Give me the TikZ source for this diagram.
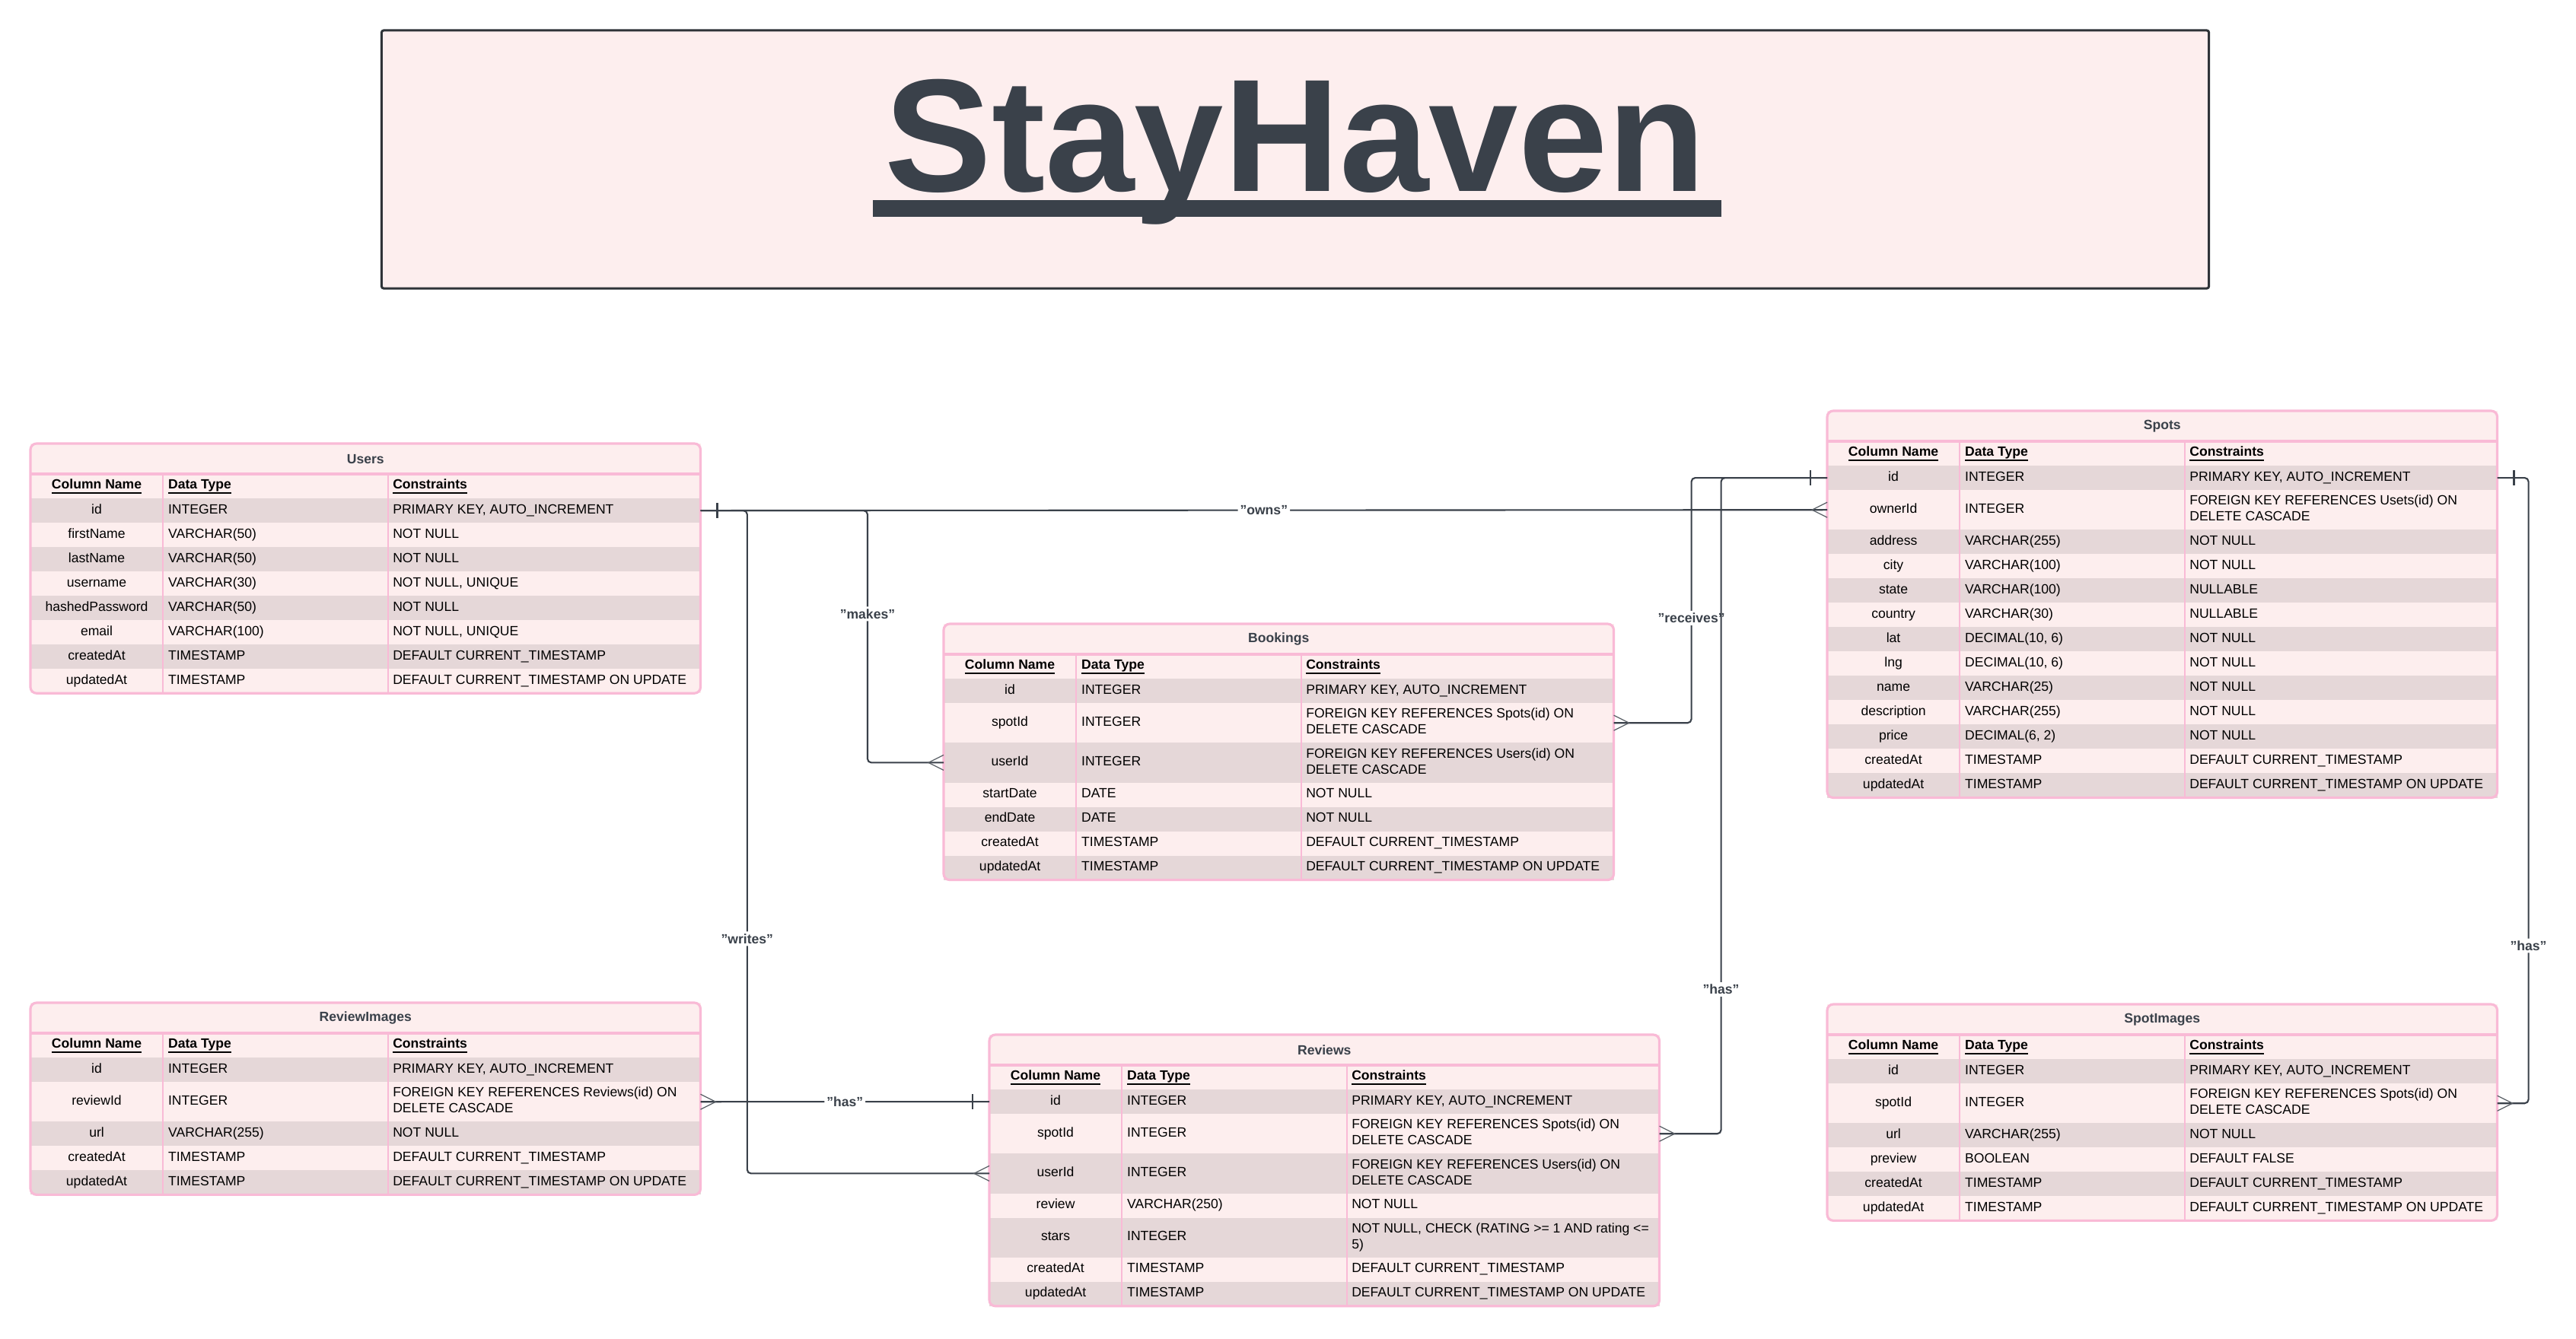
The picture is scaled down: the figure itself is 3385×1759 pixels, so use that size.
\documentclass[tikz,border=0pt]{standalone}
\usepackage{fontspec}
\setmainfont{Liberation Sans}
\usepackage{xcolor}
\usepackage{tikz}
\usetikzlibrary{positioning}

\definecolor{ink}{HTML}{3A414A}
\definecolor{rowlight}{HTML}{FDEEEE}
\definecolor{rowdark}{HTML}{E5D7D8}
\definecolor{tabpink}{HTML}{F9BAD6}
\definecolor{framegray}{HTML}{2F3338}

\newcommand{\cellfont}{\fontsize{5pt}{6pt}\selectfont}
\newcommand{\hdul}[1]{\underline{\smash{#1}}}
\newcommand{\cells}[3]{\parbox[c]{1.74cm}{\centering\strut\ignorespaces#1}\parbox[c]{2.96cm}{\leftskip=0.07cm\relax\strut\ignorespaces#2}\parbox[c]{4.1cm}{\raggedright\leftskip=0.06cm\relax\strut\ignorespaces#3\strut}}

\tikzstyle{tabtitle} = [rectangle, anchor=north west, minimum width=8.8cm, minimum height=0.4cm, inner sep=0pt, outer sep=0pt, fill=rowlight, text=ink, font=\cellfont\bfseries]
\tikzstyle{tabrow} = [rectangle, minimum width=8.8cm, minimum height=0.32cm, inner xsep=0pt, inner ysep=0.05cm, outer sep=0pt, text=black, font=\cellfont]
\tikzstyle{tabhead} = [tabrow, fill=rowlight, font=\cellfont\bfseries]
\tikzstyle{tabline} = [draw=tabpink, line width=0.9pt]
\tikzstyle{colline} = [draw=tabpink, line width=0.55pt]
\tikzstyle{tabframe} = [draw=tabpink, line width=0.9pt, rounded corners=0.08cm]
\tikzstyle{rel} = [draw=ink, line width=0.6pt, rounded corners=0.05cm]
\tikzstyle{relname} = [fill=white, text=ink, font=\cellfont\bfseries, inner sep=0.03cm]
\tikzstyle{prong} = [draw=ink!85, line width=0.35pt]
\tikzstyle{onetick} = [draw=ink, line width=0.75pt]
\tikzstyle{titlebox} = [rectangle, draw=framegray, line width=0.85pt, fill=rowlight, minimum width=24cm, minimum height=3.39cm, rounded corners=0.03cm]
\tikzstyle{brand} = [anchor=base, inner sep=0pt, text=ink, font=\fontsize{60pt}{72pt}\selectfont\bfseries]

\tikzset{
  one/.pic={\draw[onetick] (22,-10) -- (22,10);},
  many/.pic={\draw[prong] (0,-10) -- (20,0) -- (0,10);}
}

% name, corner, title, last row, rows
\newcommand{\erdtable}[5]{%
  \node[tabtitle] (#1) at #2 {#3};
  \node[tabhead, below=0pt of #1] (#1-0) {\cells{\hdul{Column Name}}{\hdul{Data Type}}{\hdul{Constraints}}};
  \foreach \cname/\ctype/\ccons [count=\i, remember=\i as \j (initially 0)] in {#5}{%
    \ifodd\i\relax\def\rowfill{rowdark}\else\def\rowfill{rowlight}\fi
    \node[tabrow, fill=\rowfill, below=0pt of #1-\j] (#1-\i) {\cells{\cname}{\ctype}{\ccons}};
  }
  \draw[tabline] (#1-0.north west) -- (#1-0.north east);
  \draw[colline] ([xshift=1.74cm]#1-0.north west) -- ([xshift=1.74cm]#1-#4.south west);
  \draw[colline] ([xshift=4.7cm]#1-0.north west) -- ([xshift=4.7cm]#1-#4.south west);
  \draw[tabframe] (#1.north west) rectangle (#1-#4.south east);
}

\begin{document}
\begin{tikzpicture}[x=0.01cm, y=-0.01cm]
  \fill[white] (0,0) rectangle (3385,1759);
  \useasboundingbox (0,0) rectangle (3385,1759);

  \node[titlebox] (title) at (1702,209.5) {};
  \node[brand] (brandname) at ([yshift=-0.415cm]title.center) {StayHaven};
  \fill[ink] ([xshift=-0.15cm,yshift=-0.12cm]brandname.base west) rectangle ([xshift=0.2cm,yshift=-0.34cm]brandname.base east);

  \erdtable{users}{(40,583)}{Users}{8}{
    id/INTEGER/PRIMARY KEY{,} AUTO\_INCREMENT,
    firstName/VARCHAR(50)/NOT NULL,
    lastName/VARCHAR(50)/NOT NULL,
    username/VARCHAR(30)/NOT NULL{,} UNIQUE,
    hashedPassword/VARCHAR(50)/NOT NULL,
    email/VARCHAR(100)/NOT NULL{,} UNIQUE,
    createdAt/TIMESTAMP/DEFAULT CURRENT\_TIMESTAMP,
    updatedAt/TIMESTAMP/DEFAULT CURRENT\_TIMESTAMP ON UPDATE}

  \erdtable{bookings}{(1240,820)}{Bookings}{7}{
    id/INTEGER/PRIMARY KEY{,} AUTO\_INCREMENT,
    spotId/INTEGER/FOREIGN KEY REFERENCES Spots(id) ON DELETE CASCADE,
    userId/INTEGER/FOREIGN KEY REFERENCES Users(id) ON DELETE CASCADE,
    startDate/DATE/NOT NULL,
    endDate/DATE/NOT NULL,
    createdAt/TIMESTAMP/DEFAULT CURRENT\_TIMESTAMP,
    updatedAt/TIMESTAMP/DEFAULT CURRENT\_TIMESTAMP ON UPDATE}

  \erdtable{spots}{(2401,540)}{Spots}{13}{
    id/INTEGER/PRIMARY KEY{,} AUTO\_INCREMENT,
    ownerId/INTEGER/FOREIGN KEY REFERENCES Usets(id) ON DELETE CASCADE,
    address/VARCHAR(255)/NOT NULL,
    city/VARCHAR(100)/NOT NULL,
    state/VARCHAR(100)/NULLABLE,
    country/VARCHAR(30)/NULLABLE,
    lat/DECIMAL(10{,} 6)/NOT NULL,
    lng/DECIMAL(10{,} 6)/NOT NULL,
    name/VARCHAR(25)/NOT NULL,
    description/VARCHAR(255)/NOT NULL,
    price/DECIMAL(6{,} 2)/NOT NULL,
    createdAt/TIMESTAMP/DEFAULT CURRENT\_TIMESTAMP,
    updatedAt/TIMESTAMP/DEFAULT CURRENT\_TIMESTAMP ON UPDATE}

  \erdtable{reviewimages}{(40,1318)}{ReviewImages}{5}{
    id/INTEGER/PRIMARY KEY{,} AUTO\_INCREMENT,
    reviewId/INTEGER/FOREIGN KEY REFERENCES Reviews(id) ON DELETE CASCADE,
    url/VARCHAR(255)/NOT NULL,
    createdAt/TIMESTAMP/DEFAULT CURRENT\_TIMESTAMP,
    updatedAt/TIMESTAMP/DEFAULT CURRENT\_TIMESTAMP ON UPDATE}

  \erdtable{reviews}{(1300,1360)}{Reviews}{7}{
    id/INTEGER/PRIMARY KEY{,} AUTO\_INCREMENT,
    spotId/INTEGER/FOREIGN KEY REFERENCES Spots(id) ON DELETE CASCADE,
    userId/INTEGER/FOREIGN KEY REFERENCES Users(id) ON DELETE CASCADE,
    review/VARCHAR(250)/NOT NULL,
    stars/INTEGER/NOT NULL{,} CHECK (RATING >= 1 AND rating <= 5),
    createdAt/TIMESTAMP/DEFAULT CURRENT\_TIMESTAMP,
    updatedAt/TIMESTAMP/DEFAULT CURRENT\_TIMESTAMP ON UPDATE}

  \erdtable{spotimages}{(2401,1320)}{SpotImages}{6}{
    id/INTEGER/PRIMARY KEY{,} AUTO\_INCREMENT,
    spotId/INTEGER/FOREIGN KEY REFERENCES Spots(id) ON DELETE CASCADE,
    url/VARCHAR(255)/NOT NULL,
    preview/BOOLEAN/DEFAULT FALSE,
    createdAt/TIMESTAMP/DEFAULT CURRENT\_TIMESTAMP,
    updatedAt/TIMESTAMP/DEFAULT CURRENT\_TIMESTAMP ON UPDATE}

  % relationships
  \draw[rel] (users-1.east) -- node[relname]{"owns"} (spots-2.west);
  \draw[rel] (users-1.east) -| node[relname, pos=0.705]{"makes"} ([xshift=-1cm]bookings-3.west) -- (bookings-3.west);
  \draw[rel] (users-1.east) -| node[relname, pos=0.823]{"writes"} ([xshift=-3.18cm]reviews-3.west) -- (reviews-3.west);
  \draw[rel] (spots-1.west) -| node[relname, pos=0.786]{"receives"} ([xshift=1.02cm]bookings-2.east) -- (bookings-2.east);
  \draw[rel] (spots-1.west) -| node[relname, pos=0.89]{"has"} ([xshift=0.81cm]reviews-2.east) -- (reviews-2.east);
  \draw[rel] (spots-1.east) -| node[relname, pos=0.874]{"has"} ([xshift=0.41cm]spotimages-2.east) -- (spotimages-2.east);
  \draw[rel] (reviews-1.west) -- node[relname]{"has"} (reviewimages-2.east);

  \pic at (users-1.east) {one};
  \pic[xscale=-1] at (spots-1.west) {one};
  \pic at (spots-1.east) {one};
  \pic[xscale=-1] at (reviews-1.west) {one};
  \pic[xscale=-1] at (spots-2.west) {many};
  \pic[xscale=-1] at (bookings-3.west) {many};
  \pic[xscale=-1] at (reviews-3.west) {many};
  \pic at (bookings-2.east) {many};
  \pic at (reviews-2.east) {many};
  \pic at (spotimages-2.east) {many};
  \pic at (reviewimages-2.east) {many};
\end{tikzpicture}
\end{document}
